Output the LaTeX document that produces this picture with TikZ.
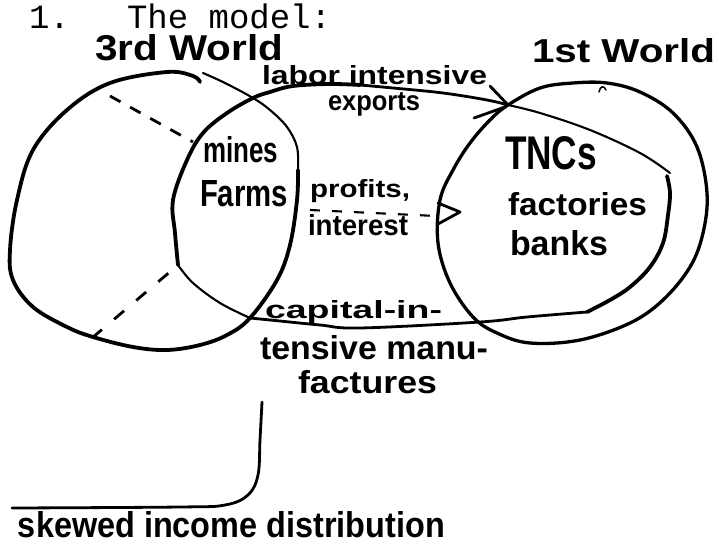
\documentclass[tikz,border=0pt]{standalone}
\usepackage{fontspec}
\setmainfont{Liberation Sans}
\newfontfamily\typew{Liberation Mono}
\usepackage{graphicx}
\newcommand\hw[3]{\resizebox{#1pt}{#2pt}{\bfseries #3}}
\begin{document}
\begin{tikzpicture}[x=1pt,y=-1pt,
  heavy/.style={line width=3.8pt, line cap=round, line join=round},
  medium/.style={line width=2.8pt, line cap=round, line join=round},
  light/.style={line width=2.1pt, line cap=round, line join=round},
  txt/.style={anchor=base west, inner sep=0pt, outer sep=0pt}]
\useasboundingbox (0,0) rectangle (719,545);
\fill[white] (0,0) rectangle (719,545);

% key points
\coordinate (xL) at (253,98);
\coordinate (xR) at (508,105);
\coordinate (pS) at (310,210);
\coordinate (pE) at (436,216);
\coordinate (pT) at (460,212);
\coordinate (dTop) at (262,402);
\coordinate (dEnd) at (12,508);

% typed heading
\node[txt] (num) at (29,29) {\typew\fontsize{34}{36}\selectfont 1.};
\node[txt] (title) at (127,29) {\typew\fontsize{34}{36}\selectfont The model:};

% handwritten labels
\node[txt] (w3) at (95,61) {\hw{188}{26}{3rd World}};
\node[txt] (w1) at (532,63) {\hw{183}{24}{1st World}};
\node[txt] (labor) at (262,85) {\hw{225}{19}{labor intensive}};
\node[txt] (exports) at (328,111) {\hw{92}{18}{exports}};
\node[txt] (mines) at (203,163) {\hw{75}{26}{mines}};
\node[txt] (farms) at (200,207) {\hw{88}{26}{Farms}};
\node[txt] (profits) at (310,198) {\hw{100}{18}{profits,}};
\node[txt] (interest) at (308,235) {\hw{100}{21}{interest}};
\node[txt] (tncs) at (505,170) {\hw{92}{33}{TNCs}};
\node[txt] (fact) at (508,215) {\hw{139}{23}{factories}};
\node[txt] (banks) at (510,255) {\hw{98}{25}{banks}};
\node[txt] (cap1) at (265,318) {\hw{177}{18}{capital-in-}};
\node[txt] (cap2) at (260,359) {\hw{228}{24}{tensive manu-}};
\node[txt] (cap3) at (298,393) {\hw{139}{23}{factures}};
\node[txt] (skew) at (18,537) {\hw{427}{26}{skewed income distribution}};

% 3rd World circle
\draw[heavy] plot[smooth, tension=0.6] coordinates {(200,82) (193,76) (167,72) (110,83) (67,110) (33,150) (17,200) (10,250) (13,280) (33,307) (67,327) (93,337) (133,347) (167,350) (200,345) (227,335) (250,318) (277,280) (290,245) (297,200) (298,170)};
\draw[light] plot[smooth, tension=0.6] coordinates {(298,170) (297,147) (287,127) (270,110) (xL) (225,83) (203,73)};

% middle oval (modern sector)
\draw[heavy] plot[smooth, tension=0.6] coordinates {(178,265) (175,233) (173,200) (187,160) (203,133) (227,113) (xL) (270,92) (293,86) (330,84) (360,85)};
\draw[medium] plot[smooth, tension=0.6] coordinates {(360,85) (393,88) (443,93) (487,100) (xR)};
\draw[light] plot[smooth, tension=0.6] coordinates {(xR) (540,113) (590,130) (640,153) (670,173)};
\draw[heavy] plot[smooth, tension=0.6] coordinates {(667,176) (670,193) (668,215) (663,243) (650,267) (630,287) (610,300) (587,312)};
\draw[medium] plot[smooth, tension=0.6] coordinates {(587,312) (527,317) (480,322) (360,328) (320,325) (270,320) (250,318)};
\draw[light] plot[smooth, tension=0.6] coordinates {(250,318) (220,303) (193,283) (178,265)};

% arrow head of labor intensive exports
\draw[medium] (490,86) -- (xR);
\draw[medium] (474,118) -- (505,107);

% 1st World circle
\draw[line width=3.3pt, line join=round] plot[smooth cycle, tension=0.6] coordinates {(xR) (540,88) (573,83) (607,83) (640,92) (673,113) (697,147) (707,193) (703,233) (690,267) (663,300) (630,323) (580,340) (530,343) (497,333) (473,317) (450,283) (438,243) (440,200) (453,170) (470,143) (490,120)};
\draw[line width=1.5pt, line cap=round] (599,92) .. controls (600,86) and (604,85) .. (606,90);

% dashed lines
\draw[medium, line cap=butt, dash pattern=on 12pt off 11pt] (110,96) -- (193,142);
\draw[medium, line cap=butt, dash pattern=on 13pt off 16pt] (92,338) -- (178,265);

% profits, interest arrow
\draw[light, line cap=butt, dash pattern=on 10pt off 12pt] (pS) -- (pE);
\draw[medium] (438,203) -- (pT) -- (438,224);

% line to skewed income distribution
\draw[medium] plot[smooth, tension=0.6] coordinates {(dTop) (260,440) (258,475) (248,495) (225,505) (180,507) (dEnd)};
\end{tikzpicture}
\end{document}
